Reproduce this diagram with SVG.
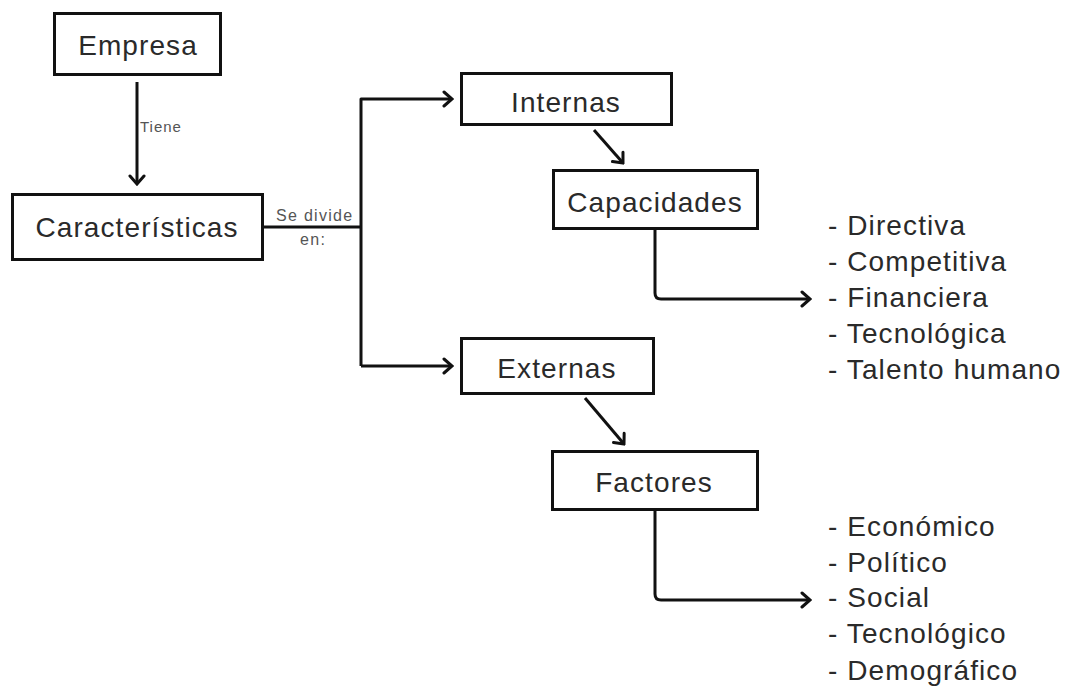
<svg xmlns="http://www.w3.org/2000/svg" width="1070" height="688" viewBox="0 0 1070 688">
  <style>
    .box { fill: #ffffff; stroke: #111111; stroke-width: 3; }
    .label { font-family: "Liberation Sans", Arial, sans-serif; font-size: 28px; letter-spacing: 1.1px; fill: #2a2a2a; text-anchor: middle; }
    .item { font-family: "Liberation Sans", Arial, sans-serif; font-size: 28px; letter-spacing: 1.1px; fill: #2a2a2a; }
    .small { font-family: "Liberation Sans", Arial, sans-serif; font-size: 15px; letter-spacing: 1px; fill: #555555; }
    .edge { fill: none; stroke: #111111; stroke-width: 3; stroke-linejoin: round; }
  </style>
  <defs>
    <marker id="chevron" viewBox="-12 -9 14 18" refX="0" refY="0" markerWidth="14" markerHeight="18" markerUnits="userSpaceOnUse" orient="auto">
      <path d="M -8,-7 L 0,0 L -8,7" fill="none" stroke="#111111" stroke-width="3" stroke-linecap="round" stroke-linejoin="miter"/>
    </marker>
  </defs>
  <rect width="1070" height="688" fill="#ffffff"/>

  <!-- connectors -->
  <g id="connectors">
    <path class="edge" d="M137,82 V184" marker-end="url(#chevron)"/>
    <path class="edge" d="M262,227 H361"/>
    <path class="edge" d="M361,366 V99 H452" marker-end="url(#chevron)"/>
    <path class="edge" d="M361,366 H452" marker-end="url(#chevron)"/>
    <path class="edge" d="M594,130 L623,163" marker-end="url(#chevron)"/>
    <path class="edge" d="M585,398 L624,444" marker-end="url(#chevron)"/>
    <path class="edge" d="M655,229 V293 Q655,299 661,299 H810" marker-end="url(#chevron)"/>
    <path class="edge" d="M655,510 V594 Q655,600 661,600 H810" marker-end="url(#chevron)"/>
    <text class="small" x="140" y="132">Tiene</text>
    <text class="small" x="276" y="221" style="font-size:16px;letter-spacing:1.3px">Se divide</text>
    <text class="small" x="300" y="245" style="font-size:16px;letter-spacing:1.3px">en:</text>
  </g>

  <!-- nodes -->
  <g id="empresa">
    <rect class="box" x="54.5" y="13.5" width="166" height="61"/>
    <text class="label" x="138" y="55">Empresa</text>
  </g>
  <g id="caracteristicas">
    <rect class="box" x="12.5" y="194.5" width="250" height="65"/>
    <text class="label" x="137" y="237">Características</text>
  </g>
  <g id="internas">
    <rect class="box" x="461.5" y="73.5" width="210" height="51"/>
    <text class="label" x="566" y="112">Internas</text>
  </g>
  <g id="capacidades">
    <rect class="box" x="553.5" y="170.5" width="204" height="58"/>
    <text class="label" x="655" y="212">Capacidades</text>
  </g>
  <g id="externas">
    <rect class="box" x="461.5" y="338.5" width="192" height="55"/>
    <text class="label" x="557" y="378">Externas</text>
  </g>
  <g id="factores">
    <rect class="box" x="552.5" y="451.5" width="205" height="58"/>
    <text class="label" x="654" y="492">Factores</text>
  </g>

  <g id="capacidades-list">
    <text class="item" x="828" y="235">- Directiva</text>
    <text class="item" x="828" y="271">- Competitiva</text>
    <text class="item" x="828" y="307">- Financiera</text>
    <text class="item" x="828" y="343">- Tecnológica</text>
    <text class="item" x="828" y="379">- Talento humano</text>
  </g>
  <g id="factores-list">
    <text class="item" x="828" y="536">- Económico</text>
    <text class="item" x="828" y="572">- Político</text>
    <text class="item" x="828" y="607">- Social</text>
    <text class="item" x="828" y="643">- Tecnológico</text>
    <text class="item" x="828" y="680">- Demográfico</text>
  </g>
</svg>
